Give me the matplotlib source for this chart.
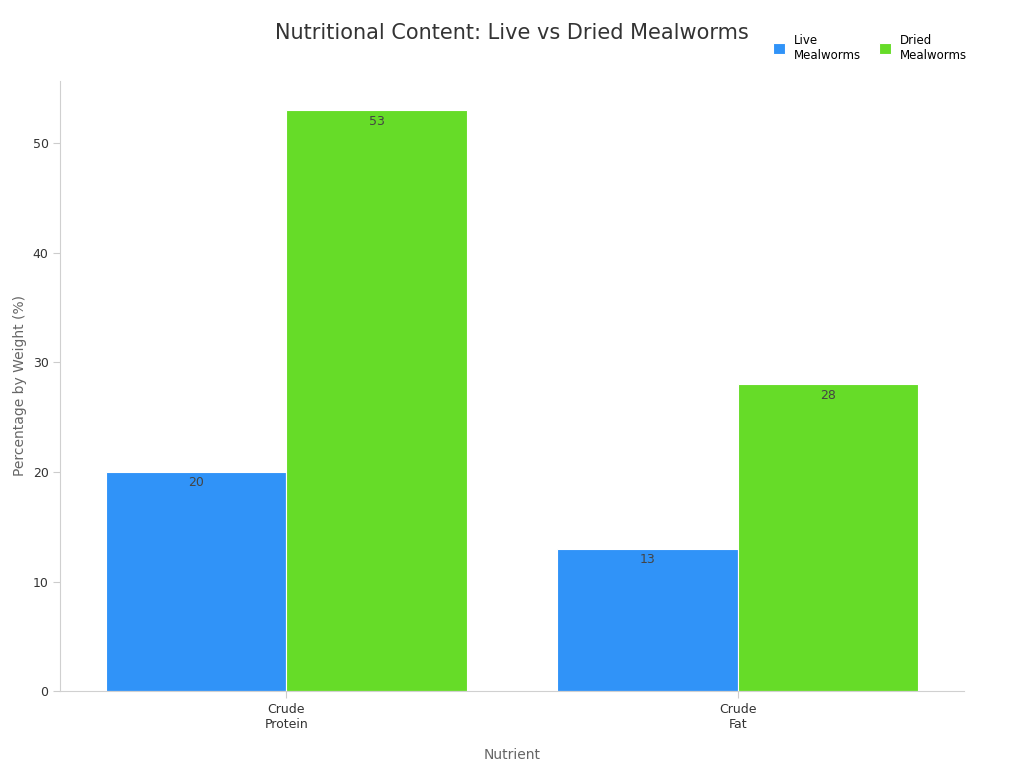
import numpy as np
import matplotlib.pyplot as plt

categories = ["Crude\nProtein", "Crude\nFat"]
live = [20, 13]
dried = [53, 28]
series_names = ["Live\nMealworms", "Dried\nMealworms"]
colors = ["#3093f8", "#66dc28"]

fig = plt.figure(figsize=(10.24, 7.68), dpi=100)
ax = fig.add_axes([0.059, 0.1, 0.882, 0.795])

x = np.arange(len(categories))
w = 0.4
for off, vals, name, c in [(-w / 2, live, series_names[0], colors[0]),
                           (w / 2, dried, series_names[1], colors[1])]:
    bars = ax.bar(x + off, vals, w, color=c, edgecolor="white", linewidth=0.8, label=name)
    for b, v in zip(bars, vals):
        ax.text(b.get_x() + b.get_width() / 2, v - 0.4, str(v), ha="center", va="top",
                fontsize=9, color="#444444")

ax.set_xlim(-0.5, 1.5)
ax.set_ylim(0, 55.7)
ax.set_xticks(x)
ax.set_xticklabels(categories, fontsize=9, color="#333333")
ax.set_yticks([0, 10, 20, 30, 40, 50])
ax.tick_params(axis="y", labelsize=9, colors="#333333", length=5, color="#cccccc")
ax.tick_params(axis="x", length=5, color="#cccccc")
for s in ["top", "right"]:
    ax.spines[s].set_visible(False)
for s in ["left", "bottom"]:
    ax.spines[s].set_color("#d0d0d0")
ax.set_xlabel("Nutrient", fontsize=10, color="#666666", labelpad=12)
ax.set_ylabel("Percentage by Weight (%)", fontsize=10, color="#666666")

fig.suptitle("Nutritional Content: Live vs Dried Mealworms", x=0.5, y=0.97,
             fontsize=15, color="#333333")
fig.legend(loc="upper right", bbox_to_anchor=(0.955, 0.97), ncol=2, frameon=False,
           fontsize=8.5, handlelength=1, handleheight=1, columnspacing=1.5)

fig.savefig("out.png")
